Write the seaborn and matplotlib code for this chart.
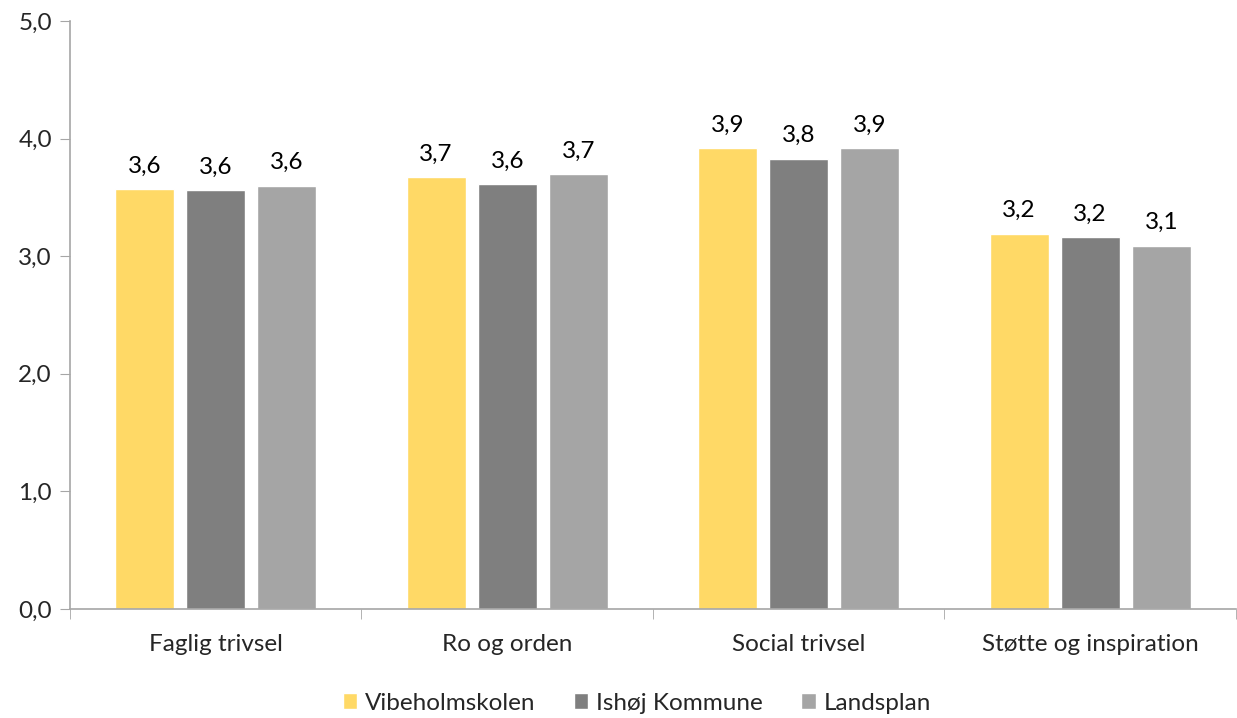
import matplotlib
matplotlib.use("Agg")
import matplotlib.pyplot as plt
import seaborn as sns
import pandas as pd
from matplotlib.ticker import FixedLocator, FuncFormatter

categories = ["Faglig trivsel", "Ro og orden", "Social trivsel", "Støtte og inspiration"]
series = ["Vibeholmskolen", "Ishøj Kommune", "Landsplan"]
vibeholm = [3.57, 3.67, 3.92, 3.19]
ishoj = [3.56, 3.61, 3.83, 3.16]
landsplan = [3.60, 3.70, 3.92, 3.09]
colors = ["#FFD966", "#7F7F7F", "#A5A5A5"]

df = pd.DataFrame({
    "kategori": categories * 3,
    "serie": [s for s in series for _ in categories],
    "vaerdi": vibeholm + ishoj + landsplan,
})

sns.set_style("white")
plt.rcParams["font.family"] = ["Lato", "DejaVu Sans"]

fig = plt.figure(figsize=(12.37, 7.18), dpi=100)
ax = fig.add_axes([0.0566, 0.1518, 0.9425, 0.819])

sns.barplot(data=df, x="kategori", y="vaerdi", hue="serie", order=categories,
            hue_order=series, palette=colors, width=0.732, gap=0.17,
            saturation=1, ax=ax, legend=True)

for cont in ax.containers:
    ax.bar_label(cont, labels=[f"{v:.1f}".replace(".", ",") for v in cont.datavalues],
                 padding=9, fontsize=17.5, color="black")

ax.set_ylim(0, 5)
ax.set_xlim(-0.5, 3.5)
ax.set_yticks([0, 1, 2, 3, 4, 5])
ax.yaxis.set_major_formatter(FuncFormatter(lambda v, p: f"{v:.1f}".replace(".", ",")))
ax.set_xlabel("")
ax.set_ylabel("")
ax.xaxis.set_minor_locator(FixedLocator([-0.5, 0.5, 1.5, 2.5, 3.5]))
ax.tick_params(axis="x", which="major", length=0, pad=18, labelsize=17.5)
ax.tick_params(axis="x", which="minor", length=7, color="#A6A6A6", direction="out", bottom=True)
ax.tick_params(axis="y", length=7, color="#A6A6A6", direction="out", left=True, labelsize=17.5, pad=6)
for side in ["top", "right"]:
    ax.spines[side].set_visible(False)
for side in ["left", "bottom"]:
    ax.spines[side].set_color("#A6A6A6")
    ax.spines[side].set_linewidth(1.2)

handles, labels = ax.get_legend_handles_labels()
ax.legend(handles, labels, loc="lower center", bbox_to_anchor=(0.486, -0.215), ncol=3,
          frameon=False, fontsize=17.5, handlelength=0.6, handleheight=0.6,
          handletextpad=0.3, columnspacing=1.6)

fig.savefig("out.png", dpi=100)
